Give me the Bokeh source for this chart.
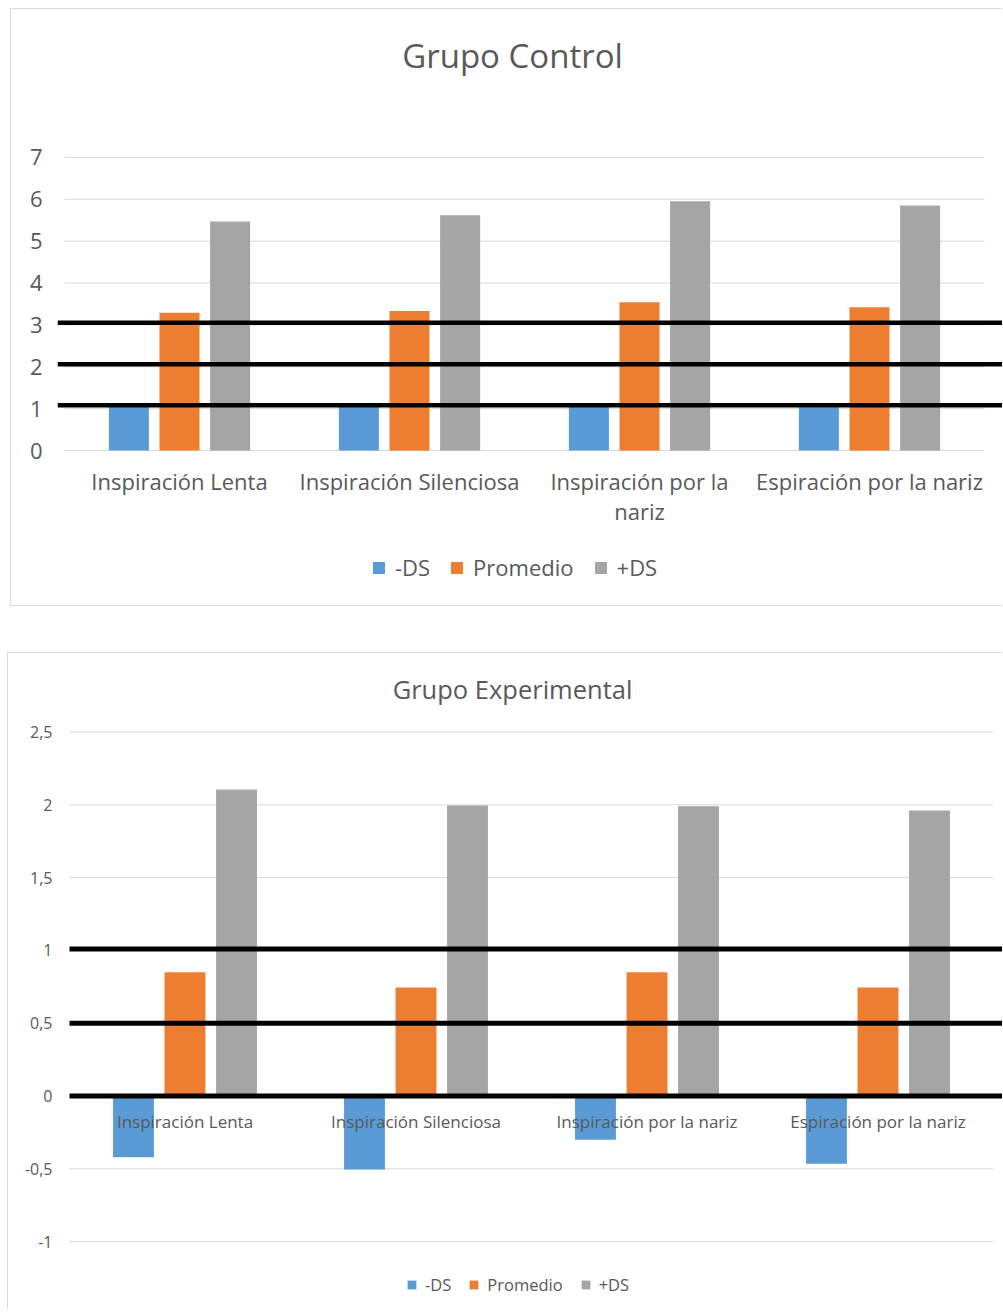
import numpy as np
from bokeh.plotting import figure
from bokeh.models import FixedTicker, Label, Legend, LegendItem, ColumnDataSource
from bokeh.layouts import column
from bokeh.embed import file_html
from bokeh.resources import INLINE
from bokeh.core.properties import value

# ---- data -------------------------------------------------------------
categories = ["Inspiración Lenta", "Inspiración Silenciosa",
              "Inspiración por la nariz", "Espiración por la nariz"]
control_axis_labels = ["Inspiración Lenta", "Inspiración Silenciosa",
                       "Inspiración por la\nnariz", "Espiración por la nariz"]
series = ["-DS", "Promedio", "+DS"]
colors = ["#5B9BD5", "#ED7D31", "#A5A5A5"]

control_minus = [1.10, 1.05, 1.12, 1.03]
control_mean = [3.29, 3.33, 3.54, 3.42]
control_plus = [5.47, 5.62, 5.95, 5.85]
control_ticks = [0, 1, 2, 3, 4, 5, 6, 7]
control_tick_labels = ["0", "1", "2", "3", "4", "5", "6", "7"]
control_marks = [1.08, 2.06, 3.05]

exp_minus = [-0.42, -0.505, -0.30, -0.465]
exp_mean = [0.85, 0.745, 0.85, 0.745]
exp_plus = [2.105, 1.995, 1.99, 1.96]
exp_ticks = [-1, -0.5, 0, 0.5, 1, 1.5, 2, 2.5]
exp_tick_labels = ["-1", "-0,5", "0", "0,5", "1", "1,5", "2", "2,5"]
exp_marks = [0.0, 0.5, 1.01]

FONT = "Open Sans"
TXT = "#595959"
GRID = "#D9D9D9"
AXIS_W = 46   # width kept for the value axis in both cards


def tick_key(t):
    return int(t) if float(t).is_integer() else float(t)


class Card:
    """A chart card whose plotting frame covers everything right of the value axis."""

    def __init__(self, width, height, px_per_x, px_per_y, x0_px, zero_row):
        self.px_per_x = px_per_x
        self.px_per_y = px_per_y
        self.zero_row = zero_row          # pixel row of value 0, from the card's top
        self.x_start = -x0_px / px_per_x  # x0_px: frame pixels left of the first category
        self.x_end = (width - AXIS_W - x0_px) / px_per_x
        y_end = zero_row / px_per_y
        y_start = -(height - zero_row) / px_per_y
        self.p = figure(width=width, height=height, x_range=(self.x_start, self.x_end),
                        y_range=(y_start, y_end), output_backend="svg",
                        toolbar_location=None, x_axis_location=None,
                        min_border_left=AXIS_W, min_border_right=0,
                        min_border_top=0, min_border_bottom=0)
        p = self.p
        p.xgrid.visible = False
        p.ygrid.visible = False
        p.outline_line_color = None
        p.background_fill_color = "white"
        p.border_fill_color = "white"

    def row_to_y(self, row):
        return (self.zero_row - row) / self.px_per_y

    def col_to_x(self, col):
        return (col - AXIS_W) / self.px_per_x + self.x_start


def style_axis(ax, size, standoff):
    ax.axis_line_color = None
    ax.major_tick_line_color = None
    ax.minor_tick_line_color = None
    ax.major_tick_out = 0
    ax.major_tick_in = 0
    ax.major_label_text_font = FONT
    ax.major_label_text_font_size = size
    ax.major_label_text_color = TXT
    ax.major_label_standoff = standoff


def add_hlines(p, ys, x0, x1, color, width):
    p.segment(x0=[x0] * len(ys), x1=[x1] * len(ys), y0=ys, y1=ys,
              line_color=color, line_width=width, line_cap="butt")


def add_bars(p, centers, values_by_series, bar_width, step):
    rs = []
    for i, (vals, col) in enumerate(zip(values_by_series, colors)):
        src = ColumnDataSource(dict(x=centers + (i - 1) * step, top=vals))
        rs.append(p.vbar(x="x", top="top", bottom=0, width=bar_width, source=src,
                         fill_color=col, line_color=None))
    return rs


def add_legend(p, rs, size, glyph, spacing, standoff, loc):
    items = [LegendItem(label=s, renderers=[r]) for s, r in zip(series, rs)]
    lg = Legend(items=items, orientation="horizontal", location=loc,
                label_text_font=FONT, label_text_font_size=size,
                label_text_color=TXT, glyph_width=glyph, glyph_height=glyph,
                spacing=spacing, label_standoff=standoff, padding=0, margin=0,
                border_line_color=None, background_fill_alpha=0)
    p.add_layout(lg)


# ---- Grupo Control ----------------------------------------------------
# card content 992 x 598; 230 px per category, 41.87 px per unit
c = Card(992, 598, 230.0, 41.87, 7, 441)
p1 = c.p
cx1 = np.arange(len(categories)) + 0.5
add_hlines(p1, control_ticks, 0, len(categories), GRID, 1)
r1 = add_bars(p1, cx1, [control_minus, control_mean, control_plus], 0.174, 0.22)
p1.text(x=list(cx1), y=[0] * len(categories), text=control_axis_labels,
        y_offset=15, text_align="center", text_baseline="top", text_line_height=1.02,
        text_font=value(FONT), text_font_size="22px", text_color=TXT)
add_hlines(p1, control_marks, c.x_start, c.x_end, "black", 4.5)

p1.yaxis.ticker = FixedTicker(ticks=control_ticks)
p1.yaxis.major_label_overrides = {tick_key(t): s for t, s in zip(control_ticks, control_tick_labels)}
style_axis(p1.yaxis[0], "22px", 15)
add_legend(p1, r1, "22px", 15, 19, 9, (314, 25))

p1.add_layout(Label(x=c.col_to_x(501), y=c.row_to_y(46), text="Grupo Control",
                    text_align="center", text_baseline="middle",
                    text_font=FONT, text_font_size="33px", text_color=TXT))
p1.margin = (8, 0, 0, 10)
p1.styles = {"border": "1px solid #D9D9D9", "border-right": "none"}

# ---- Grupo Experimental -----------------------------------------------
# card content 995 x 657; 231 px per category, 145.6 px per unit
e = Card(995, 657, 231.0, 145.6, 15, 442.5)
p2 = e.p
cx2 = np.arange(len(categories)) + 0.5
add_hlines(p2, exp_ticks, 0, len(categories), GRID, 1)
r2 = add_bars(p2, cx2, [exp_minus, exp_mean, exp_plus], 0.177, 0.223)
p2.text(x=list(cx2), y=[0] * len(categories), text=categories,
        y_offset=25, text_align="center", text_baseline="middle",
        text_font=value(FONT), text_font_size="17px", text_color=TXT)
add_hlines(p2, exp_marks, 0, e.x_end, "black", 5)

p2.yaxis.ticker = FixedTicker(ticks=exp_ticks)
p2.yaxis.major_label_overrides = {tick_key(t): s for t, s in zip(exp_ticks, exp_tick_labels)}
style_axis(p2.yaxis[0], "16px", 2)
add_legend(p2, r2, "16.5px", 11, 17, 8, (352, 14))

p2.add_layout(Label(x=e.col_to_x(504), y=e.row_to_y(35), text="Grupo Experimental",
                    text_align="center", text_baseline="middle",
                    text_font=FONT, text_font_size="25.5px", text_color=TXT))
p2.margin = (46, 0, 0, 7)
p2.styles = {"border-left": "1px solid #D9D9D9", "border-top": "1px solid #D9D9D9"}

page = column(p1, p2, spacing=0)
open("out.html", "w").write(file_html(page, INLINE))
